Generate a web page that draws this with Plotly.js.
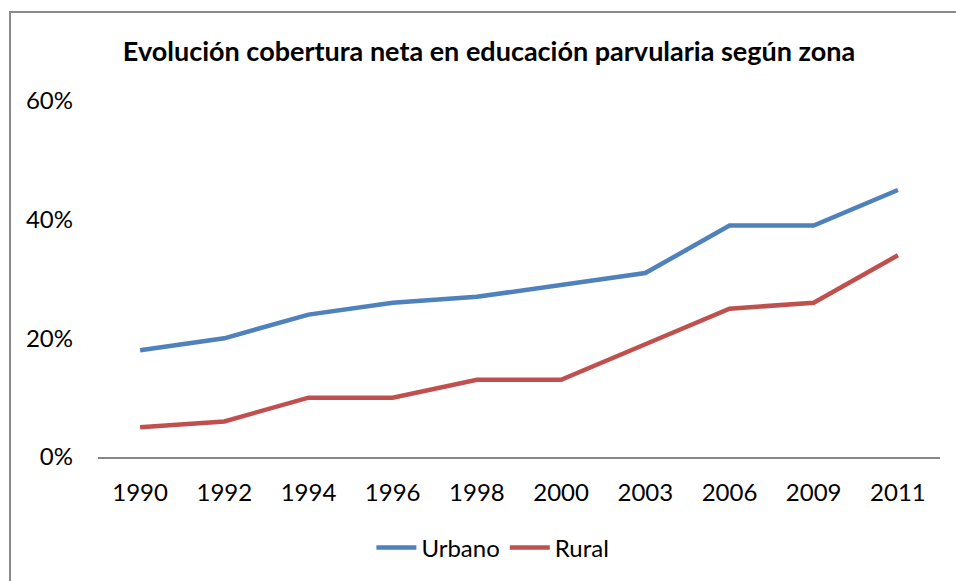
<!DOCTYPE html>
<html>
<head>
<meta charset="utf-8">
<script src="https://cdn.plot.ly/plotly-3.0.1.min.js"></script>
<style>
  html, body { margin: 0; padding: 0; background: #fff; overflow: hidden; }
  #chart { position: absolute; left: 0; top: 0; width: 956px; height: 581px; }
  #frame { position: absolute; left: 9px; top: 11px; width: 1000px; height: 700px;
           border: 2px solid #8a8a8a; pointer-events: none; box-sizing: border-box; }
</style>
</head>
<body>
<div id="chart"></div>
<div id="frame"></div>
<script>
const years = ["1990", "1992", "1994", "1996", "1998", "2000", "2003", "2006", "2009", "2011"];
const urbano = [0.18, 0.20, 0.24, 0.26, 0.27, 0.29, 0.31, 0.39, 0.39, 0.45];
const rural = [0.05, 0.06, 0.10, 0.10, 0.13, 0.13, 0.19, 0.25, 0.26, 0.34];
const seriesNames = ["Urbano", "Rural"];
const titleText = "Evolución cobertura neta en educación parvularia según zona";

const FONT = "Lato, 'Open Sans', sans-serif";

const traces = [
  { x: years, y: urbano, name: seriesNames[0], type: "scatter", mode: "lines",
    line: { color: "#4F81BD", width: 4.5 }, hoverinfo: "skip" },
  { x: years, y: rural, name: seriesNames[1], type: "scatter", mode: "lines",
    line: { color: "#C0504D", width: 4.5 }, hoverinfo: "skip" }
];

const layout = {
  width: 956, height: 581,
  margin: { l: 98, r: 16, t: 101, b: 123 },
  paper_bgcolor: "#ffffff", plot_bgcolor: "#ffffff",
  font: { family: FONT, size: 24, color: "#000000" },
  title: {
    text: "<b>" + titleText + "</b>",
    font: { family: FONT, size: 27, color: "#000000" },
    xref: "container", yref: "container",
    x: 489 / 956, xanchor: "center",
    y: 1 - 52 / 581, yanchor: "middle"
  },
  xaxis: {
    type: "category", range: [-0.5, 9.5],
    showline: true, linecolor: "#878787", linewidth: 2,
    showgrid: false, zeroline: false, ticks: "",
    ticklabelstandoff: 13,
    tickfont: { family: FONT, size: 24, color: "#000" }
  },
  yaxis: {
    range: [0, 0.6], dtick: 0.2, tickformat: ".0%",
    showline: false, showgrid: false, zeroline: false, ticks: "",
    ticklabelstandoff: 24,
    tickfont: { family: FONT, size: 24, color: "#000" }
  },
  showlegend: true,
  legend: {
    orientation: "h", x: 0.469, xanchor: "center", y: -0.252, yanchor: "middle",
    font: { family: FONT, size: 24, color: "#000" },
    itemwidth: 40, tracegroupgap: 0, bgcolor: "rgba(0,0,0,0)"
  }
};

Plotly.newPlot("chart", traces, layout, { staticPlot: true, displayModeBar: false });
</script>
</body>
</html>
